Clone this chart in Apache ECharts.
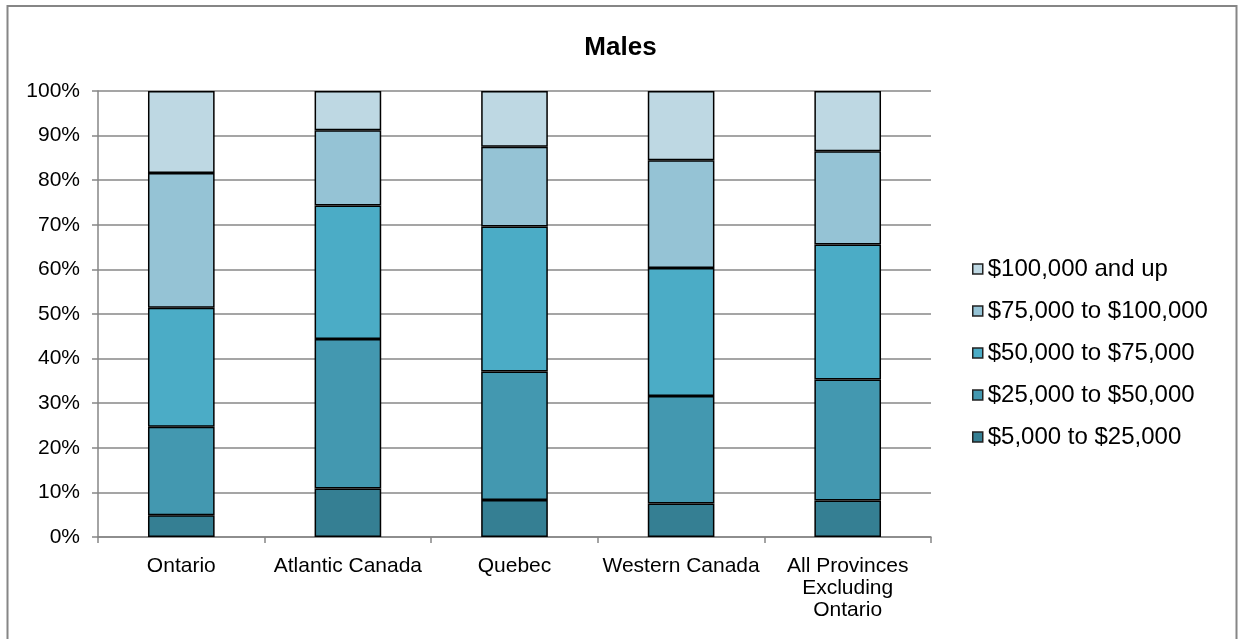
<!DOCTYPE html>
<html>
<head>
<meta charset="utf-8">
<script src="https://cdn.jsdelivr.net/npm/echarts@6/dist/echarts.min.js"></script>
<style>
html,body{margin:0;padding:0;background:#fff;}
#c{width:1241px;height:639px;}
</style>
</head>
<body>
<div id="c"></div>
<script>
const categories = ['Ontario', 'Atlantic Canada', 'Quebec', 'Western Canada', 'All Provinces\nExcluding\nOntario'];
const seriesNames = ['$5,000 to $25,000', '$25,000 to $50,000', '$50,000 to $75,000', '$75,000 to $100,000', '$100,000 and up'];
const s5to25 = [4.9, 10.9, 8.3, 7.5, 8.2];
const s25to50 = [19.8, 33.5, 28.8, 24.1, 27.1];
const s50to75 = [26.7, 29.9, 32.5, 28.7, 30.3];
const s75to100 = [30.2, 16.9, 17.9, 24.2, 20.9];
const s100up = [18.4, 8.8, 12.5, 15.5, 13.5];
const yTicks = [0, 10, 20, 30, 40, 50, 60, 70, 80, 90, 100];
const colors = ['#357F93', '#4398B0', '#4BACC6', '#95C3D5', '#BED8E3'];

const values = [s5to25, s25to50, s50to75, s75to100, s100up];
const font = '"Liberation Sans", Arial, sans-serif';

const chart = echarts.init(document.getElementById('c'), null, {renderer: 'canvas'});
chart.setOption({
  animation: false,
  backgroundColor: '#ffffff',
  title: {
    text: 'Males',
    left: 'center',
    top: 30,
    textStyle: {fontFamily: font, fontSize: 26, fontWeight: 'bold', color: '#000'}
  },
  graphic: [{
    type: 'rect',
    shape: {x: 7.5, y: 6, width: 1229, height: 700},
    style: {fill: 'none', stroke: '#868686', lineWidth: 2},
    silent: true
  }],
  legend: {
    orient: 'vertical',
    left: 972,
    top: 257,
    padding: 0,
    itemWidth: 10,
    itemHeight: 10,
    itemGap: 18,
    icon: 'rect',
    data: seriesNames.slice().reverse(),
    itemStyle: {borderColor: '#222', borderWidth: 1.5},
    textStyle: {fontFamily: font, fontSize: 24, color: '#000', lineHeight: 24, padding: [0, 0, 0, 0]}
  },
  grid: {left: 98, right: 310, top: 91, bottom: 102, containLabel: false},
  xAxis: {
    type: 'category',
    data: categories,
    boundaryGap: true,
    axisLine: {lineStyle: {color: '#868686', width: 1.5}},
    axisTick: {show: true, length: 6, alignWithLabel: false, lineStyle: {color: '#868686', width: 1.5}},
    axisLabel: {fontFamily: font, fontSize: 21, color: '#000', lineHeight: 22, margin: 18, interval: 0}
  },
  yAxis: {
    type: 'value',
    min: 0,
    max: 100,
    interval: 10,
    axisLine: {show: true, lineStyle: {color: '#868686', width: 1.5}},
    axisTick: {show: true, length: 6, lineStyle: {color: '#868686', width: 1.5}},
    splitLine: {show: true, lineStyle: {color: '#878787', width: 1.5}},
    axisLabel: {
      fontFamily: font, fontSize: 21, color: '#000', margin: 18,
      formatter: function (v) { return yTicks.indexOf(v) >= 0 ? v + '%' : ''; }
    }
  },
  series: seriesNames.map(function (name, i) {
    return {
      name: name,
      type: 'bar',
      stack: 'total',
      barWidth: '40%',
      data: values[i],
      itemStyle: {color: colors[i], borderColor: '#000', borderWidth: 1.5}
    };
  })
});
</script>
</body>
</html>
